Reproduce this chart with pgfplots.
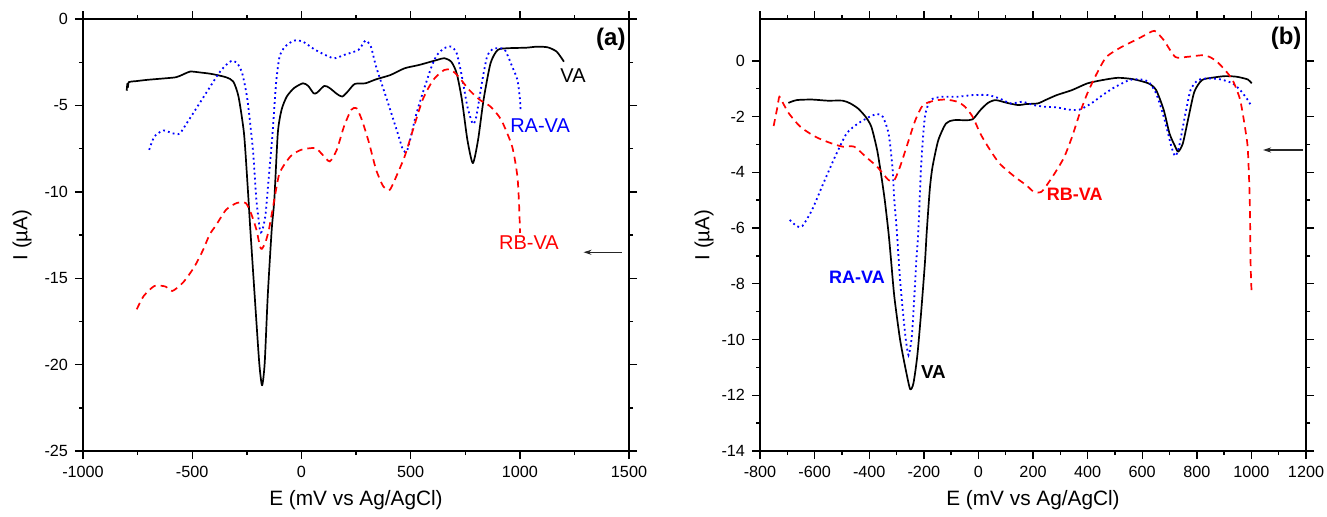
\documentclass[border=0pt]{standalone}
\usepackage{fontspec}
\setmainfont{Liberation Sans}
\usepackage{pgfplots}
\pgfplotsset{compat=1.18}
\usetikzlibrary{arrows.meta}
\pgfplotsset{
  mystyle/.style={
    scale only axis, width=273pt, height=216pt,
    axis line style={line width=0.8pt},
    every tick/.style={black, line width=0.7pt},
    tick align=outside,
    major tick length=4pt, minor tick length=2pt,
    minor tick num=1,
    scaled ticks=false,
    tick label style={font=\fontsize{8.1}{10}\selectfont},
    /pgf/number format/assume math mode=true,
    /pgf/number format/1000 sep={},
    xlabel style={font=\fontsize{10.4}{13}\selectfont},
    ylabel style={font=\fontsize{10.2}{12}\selectfont},
    clip=false,
  },
  valine/.style={black, line width=0.85pt, line join=round, smooth, tension=0.4},
  raline/.style={blue, line width=0.9pt, dash pattern=on 0.9pt off 1.6pt, smooth, tension=0.4},
  rbline/.style={red, line width=0.85pt, dash pattern=on 3.5pt off 2.5pt, smooth, tension=0.4},
}
\begin{document}
\begin{tikzpicture}
\path[use as bounding box] (0,0) rectangle (663.5pt,258pt);
% ---------------- panel (a)
\begin{axis}[mystyle,
  at={(41.5pt,32.5pt)}, anchor=south west,
  xmin=-1000, xmax=1500, ymin=-25, ymax=0,
  xtick={-1000,-500,0,500,1000,1500},
  ytick={-25,-20,-15,-10,-5,0},
  xlabel={E (mV vs Ag/AgCl)}, ylabel={I (µA)},
  xlabel style={at={([yshift=-24.5pt]axis description cs:0.5,0)}, anchor=center},
  ylabel style={at={([xshift=-30.5pt]axis description cs:0,0.5)}, anchor=center},
]
\addplot[valine] coordinates {
(-800,-4.15) (-797,-3.75) (-794,-3.95) (-790,-3.65) (-760,-3.6) (-705,-3.52) (-640,-3.45) (-574,-3.37) (-540,-3.2) (-509,-3.04) (-460,-3.1) (-411,-3.18) (-345,-3.37) (-312,-3.62) (-288,-4.49) (-263,-6.6) (-247,-9.5) (-234,-12.15) (-214,-16.0) (-193,-19.9) (-180,-21.2) (-168,-19.9) (-154,-16.0) (-136,-12.2) (-124,-10.46) (-108,-6.6) (-91,-5.26) (-67,-4.49) (-34,-4.0) (7,-3.72) (31,-3.87) (56,-4.3) (72,-4.26) (105,-3.87) (130,-4.0) (162,-4.33) (187,-4.49) (212,-4.2) (244,-3.76) (293,-3.72) (342,-3.49) (408,-3.24) (473,-2.85) (539,-2.66) (621,-2.37) (654,-2.27) (686,-2.47) (711,-3.14) (735,-4.68) (760,-6.99) (785,-8.34) (809,-6.99) (834,-4.68) (866,-2.56) (899,-1.79) (948,-1.69) (1030,-1.66) (1079,-1.6) (1128,-1.64) (1169,-1.89) (1202,-2.47)
};
\addplot[raline] coordinates {
(-697,-7.57) (-673,-6.8) (-632,-6.45) (-591,-6.61) (-558,-6.64) (-525,-6.03) (-476,-5.07) (-427,-4.10) (-378,-3.14) (-345,-2.66) (-321,-2.43) (-296,-2.52) (-271,-3.14) (-247,-4.68) (-222,-7.57) (-206,-10.46) (-190,-12.19) (-181,-12.3) (-165,-11.4) (-149,-9.1) (-132,-6.6) (-116,-3.72) (-100,-2.18) (-75,-1.60) (-34,-1.25) (7,-1.31) (64,-1.79) (146,-2.27) (195,-2.08) (261,-1.79) (293,-1.25) (318,-1.60) (342,-2.75) (392,-4.68) (441,-6.61) (465,-7.57) (482,-7.67) (498,-6.99) (523,-5.64) (555,-4.30) (596,-2.75) (621,-2.08) (654,-1.69) (686,-1.60) (711,-1.98) (735,-3.33) (760,-5.07) (785,-6.07) (801,-5.64) (826,-3.72) (850,-2.18) (875,-1.75) (899,-1.69) (932,-1.79) (965,-2.75) (989,-3.52) (1001,-4.68) (1003,-5.26)
};
\addplot[rbline] coordinates {
(-754,-16.8) (-722,-16.03) (-673,-15.45) (-623,-15.48) (-591,-15.74) (-542,-15.25) (-492,-14.38) (-452,-13.41) (-419,-12.44) (-394,-12.0) (-345,-11.04) (-296,-10.65) (-255,-10.65) (-231,-11.23) (-206,-12.19) (-190,-13.15) (-181,-13.3) (-165,-12.93) (-149,-12.2) (-124,-10.46) (-100,-8.92) (-50,-7.95) (-1,-7.57) (64,-7.47) (97,-7.86) (130,-8.24) (162,-7.57) (195,-6.22) (228,-5.26) (252,-5.16) (277,-5.84) (310,-7.18) (342,-8.72) (375,-9.69) (405,-9.88) (441,-8.92) (473,-7.95) (506,-6.61) (555,-4.68) (604,-3.52) (654,-2.95) (686,-2.95) (719,-3.33) (768,-4.10) (817,-4.68) (866,-5.07) (915,-5.84) (965,-7.38) (989,-9.11) (997,-10.84) (1001,-12.38)
};
\node[font=\fontsize{12}{14}\bfseries\selectfont] at (axis cs:1417,-1.2) {(a)};
\node[font=\fontsize{10}{12}\selectfont] at (axis cs:1244,-3.3) {VA};
\node[font=\fontsize{10}{12}\selectfont, text=blue] at (axis cs:1093,-6.15) {RA-VA};
\node[font=\fontsize{10}{12}\selectfont, text=red] at (axis cs:1042,-12.96) {RB-VA};
\draw[-{Stealth[length=4pt,width=2.6pt]}, line width=0.6pt, black!85] (axis cs:1467,-13.5) -- (axis cs:1292,-13.5);
\end{axis}
% ---------------- panel (b)
\begin{axis}[mystyle,
  at={(380pt,32.5pt)}, anchor=south west,
  xmin=-800, xmax=1200, ymin=-14, ymax=1.5,
  xtick={-800,-600,...,1200},
  ytick={-14,-12,...,0},
  xlabel={E (mV vs Ag/AgCl)}, ylabel={I (µA)},
  xlabel style={at={([yshift=-24.5pt]axis description cs:0.5,0)}, anchor=center},
  ylabel style={at={([xshift=-28pt]axis description cs:0,0.5)}, anchor=center},
]
\addplot[valine] coordinates {
(-696,-1.51) (-666,-1.41) (-610,-1.39) (-553,-1.43) (-497,-1.43) (-469,-1.53) (-441,-1.71) (-413,-2.01) (-392,-2.37) (-371,-3.2) (-357,-4.04) (-343,-5.0) (-329,-6.19) (-320,-7.15) (-308,-8.46) (-287,-10.0) (-266,-11.09) (-250,-11.78) (-238,-11.57) (-224,-10.6) (-210,-9.05) (-196,-7.26) (-189,-6.1) (-178,-4.6) (-168,-3.8) (-147,-2.85) (-119,-2.25) (-91,-2.13) (-49,-2.13) (-21,-2.1) (7,-1.77) (35,-1.51) (63,-1.41) (105,-1.51) (147,-1.59) (175,-1.55) (217,-1.53) (245,-1.41) (287,-1.23) (343,-1.05) (399,-0.81) (455,-0.69) (511,-0.61) (567,-0.66) (623,-0.81) (651,-1.05) (679,-1.77) (700,-2.61) (721,-3.08) (732,-3.26) (749,-2.96) (770,-2.01) (791,-1.11) (819,-0.69) (861,-0.6) (903,-0.55) (945,-0.57) (987,-0.67) (1001,-0.81)
};
\addplot[raline] coordinates {
(-691,-5.71) (-666,-5.93) (-645,-5.93) (-610,-5.36) (-568,-4.40) (-525,-3.44) (-483,-2.61) (-441,-2.25) (-399,-2.01) (-371,-1.91) (-350,-2.01) (-329,-2.61) (-315,-3.80) (-308,-5.0) (-299,-6.1) (-287,-7.86) (-276,-9.05) (-266,-10.0) (-256,-10.56) (-245,-10.0) (-238,-9.05) (-228,-7.26) (-220,-6.1) (-210,-3.80) (-196,-2.01) (-175,-1.41) (-133,-1.29) (-77,-1.29) (-21,-1.23) (35,-1.23) (77,-1.35) (119,-1.53) (161,-1.47) (203,-1.59) (245,-1.65) (287,-1.67) (329,-1.75) (371,-1.75) (413,-1.53) (455,-1.23) (497,-0.96) (553,-0.69) (595,-0.67) (623,-0.75) (651,-1.17) (679,-2.01) (707,-3.08) (721,-3.42) (735,-3.08) (756,-2.01) (777,-1.05) (805,-0.69) (847,-0.63) (889,-0.67) (931,-0.81) (959,-1.05) (987,-1.41) (1001,-1.65)
};
\addplot[rbline] coordinates {
(-750,-2.34) (-736,-1.65) (-729,-1.29) (-715,-1.53) (-694,-1.89) (-652,-2.37) (-596,-2.73) (-539,-2.96) (-497,-3.08) (-455,-3.08) (-413,-3.44) (-371,-3.80) (-329,-4.28) (-308,-4.28) (-287,-3.80) (-259,-2.96) (-231,-2.13) (-203,-1.59) (-161,-1.43) (-119,-1.39) (-77,-1.47) (-49,-1.65) (-21,-2.01) (7,-2.61) (35,-3.08) (77,-3.68) (133,-4.16) (175,-4.46) (203,-4.70) (231,-4.70) (259,-4.34) (287,-3.92) (315,-3.44) (343,-2.73) (371,-1.89) (399,-1.17) (434,-0.45) (469,0.14) (525,0.50) (581,0.77) (637,1.06) (651,1.04) (679,0.74) (721,0.14) (763,0.14) (819,0.20) (847,0.14) (875,-0.04) (903,-0.33) (931,-0.69) (959,-1.41) (980,-2.61) (987,-3.2) (994,-5.0) (997,-7.26) (1001,-8.40)
};
\node[font=\fontsize{12}{14}\bfseries\selectfont] at (axis cs:1127,0.8) {(b)};
\node[font=\fontsize{9}{11}\bfseries\selectfont, text=red] at (axis cs:353,-4.8) {RB-VA};
\node[font=\fontsize{9}{11}\bfseries\selectfont, text=blue] at (axis cs:-445,-7.78) {RA-VA};
\node[font=\fontsize{9.4}{11}\bfseries\selectfont] at (axis cs:-165,-11.15) {VA};
\draw[-{Stealth[length=4pt,width=2.6pt]}, line width=0.6pt, black!85] (axis cs:1190,-3.2) -- (axis cs:1043,-3.2);
\end{axis}
\end{tikzpicture}
\end{document}
